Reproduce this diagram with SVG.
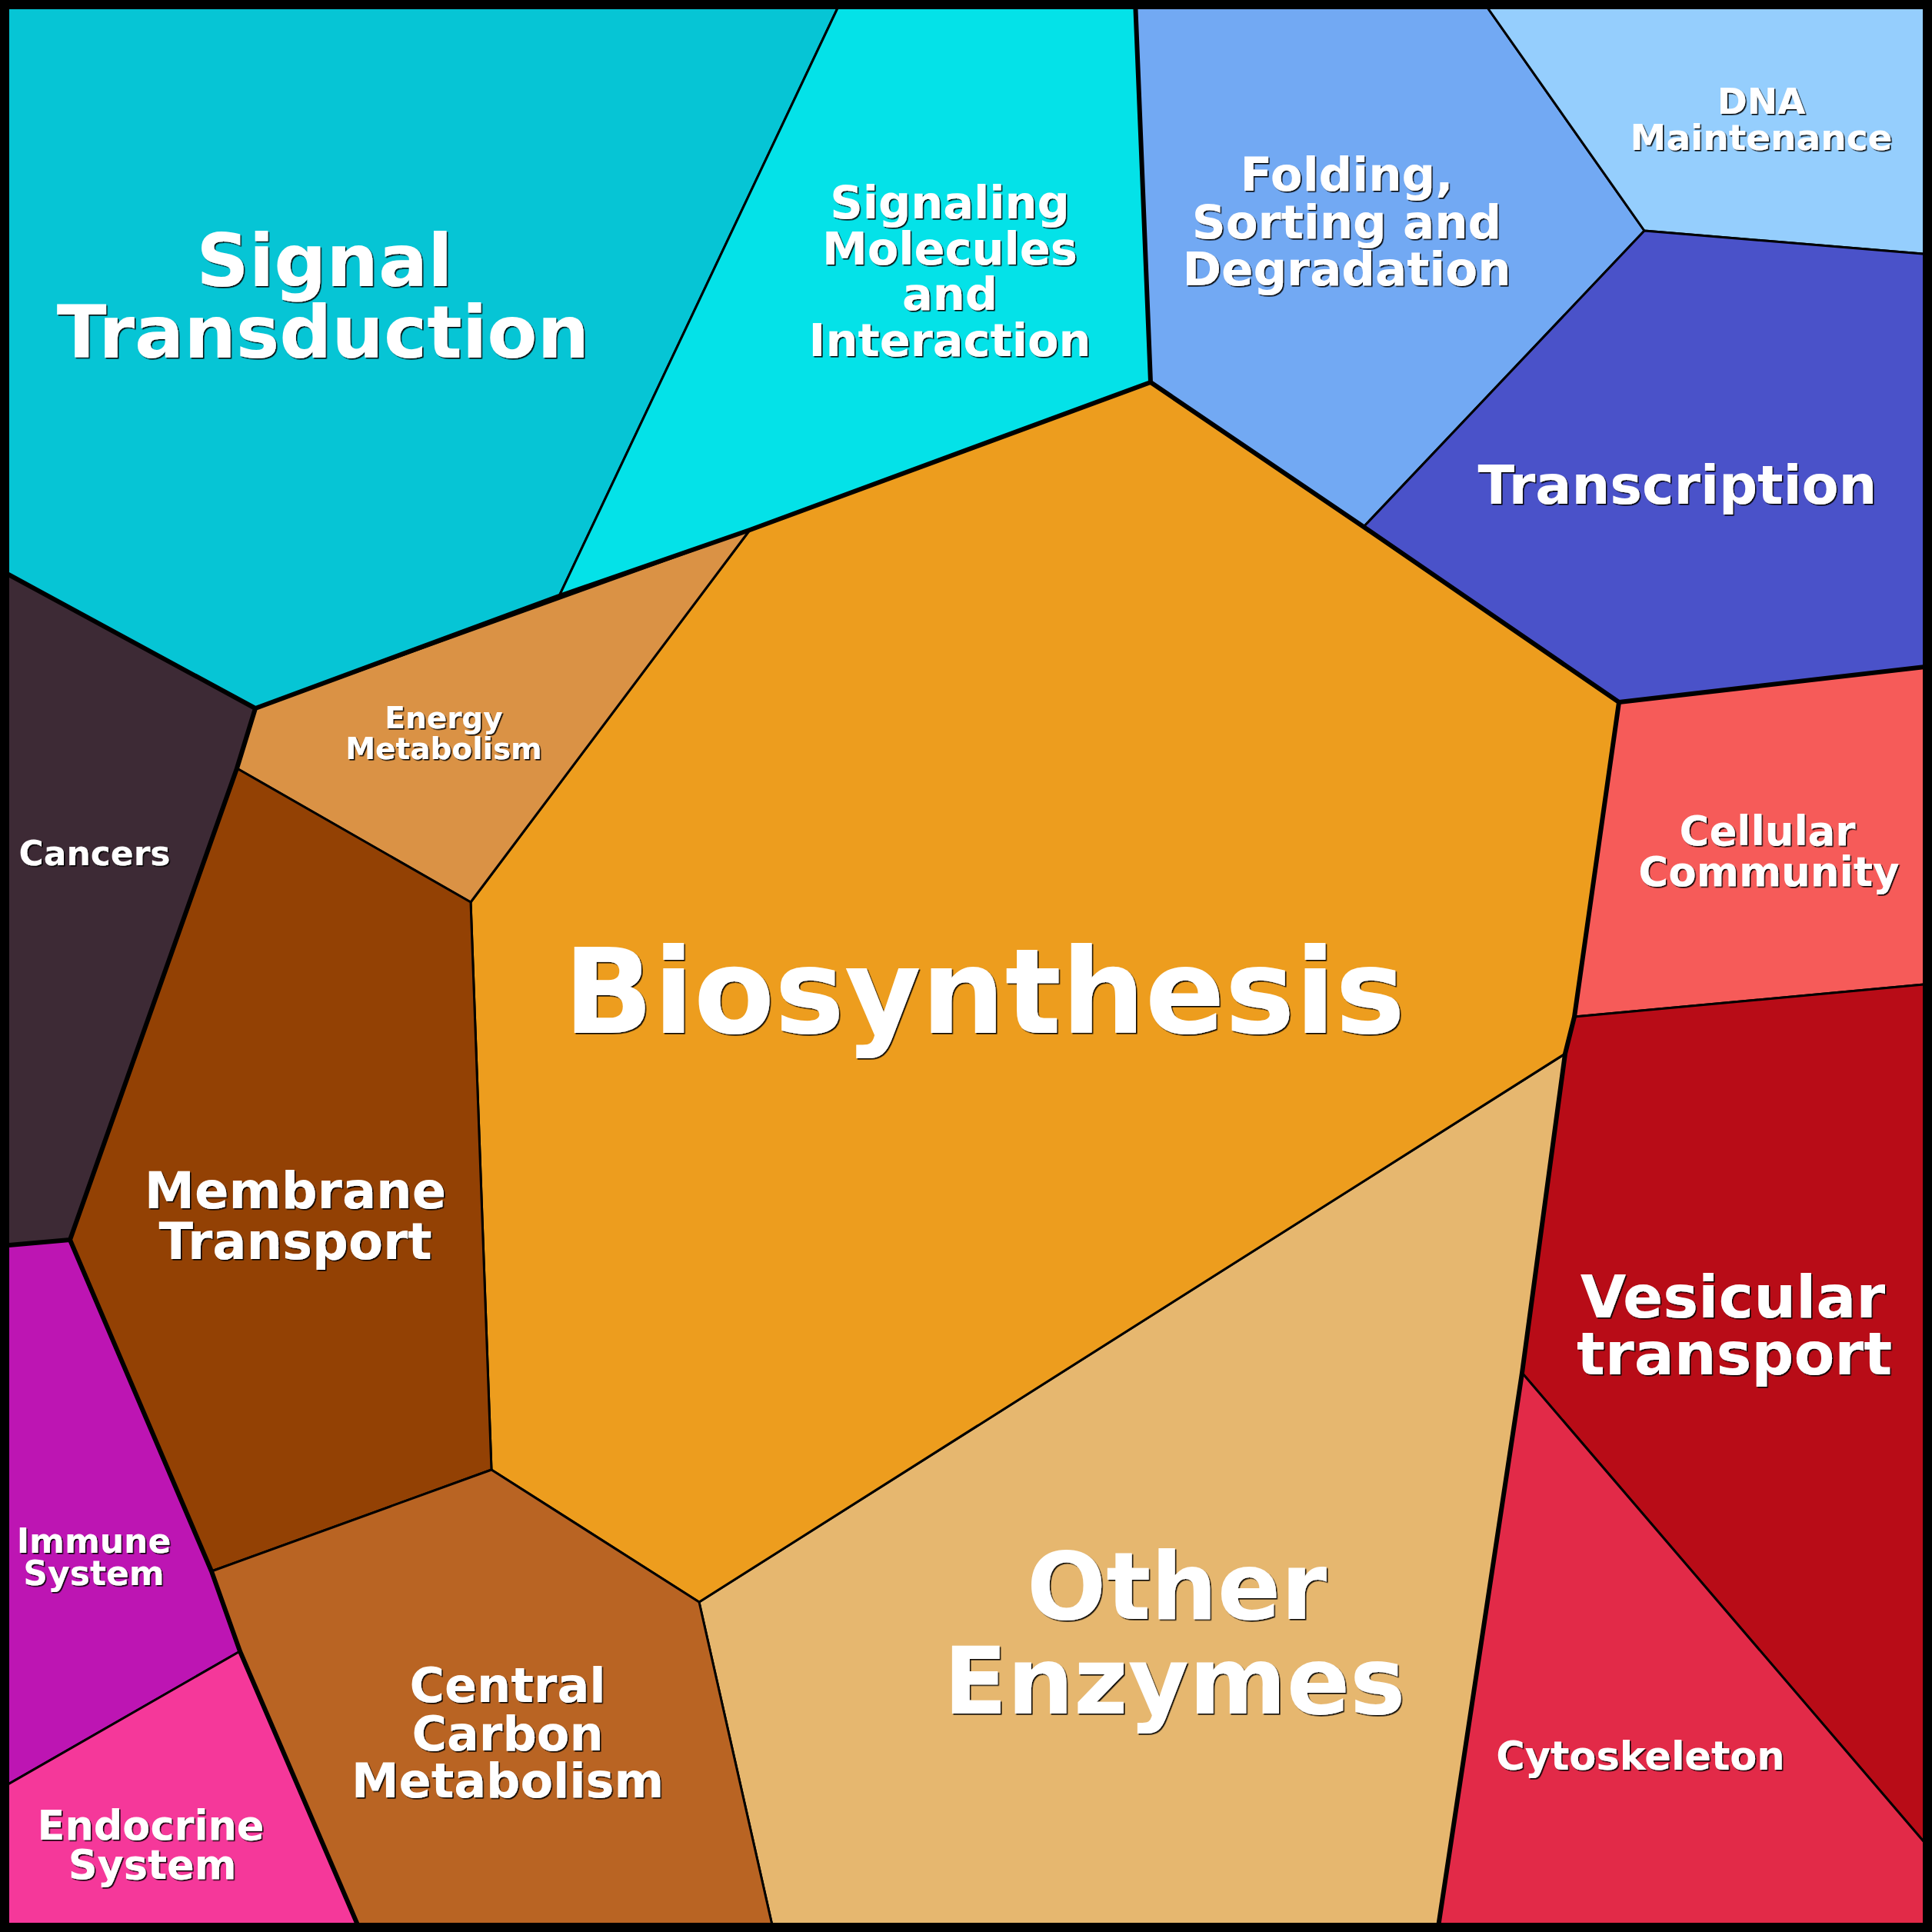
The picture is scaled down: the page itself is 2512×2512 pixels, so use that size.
<svg xmlns="http://www.w3.org/2000/svg" width="2512" height="2512" viewBox="0 0 2512 2512">
<defs>
<filter id="sh" x="-5%" y="-5%" width="110%" height="120%">
<feDropShadow dx="1.6" dy="1.6" stdDeviation="0.6" flood-color="#000" flood-opacity="0.95"/>
</filter>
</defs>
<style>
.cell polygon{stroke:#000;stroke-width:3;stroke-linejoin:round}
.cell text{font-family:"DejaVu Sans","Liberation Sans",sans-serif;font-weight:bold;fill:#fff;text-anchor:middle;filter:url(#sh)}
.thick{fill:none;stroke:#000;stroke-width:6;stroke-linejoin:round;stroke-linecap:round}
</style>
<g id="signal-transduction" class="cell">
<polygon points="0,0 1094,0 727,775 332,921 0,741" fill="#06C5D5"/>
<text font-size="95"><tspan x="422" y="372">Signal</tspan><tspan x="420" y="465">Transduction</tspan></text>
</g>
<g id="signaling-molecules" class="cell">
<polygon points="1094,0 1476,0 1496,497 975,689 727,775" fill="#04E2E8"/>
<text font-size="59"><tspan x="1235" y="284">Signaling</tspan><tspan x="1235" y="344">Molecules</tspan><tspan x="1235" y="403">and</tspan><tspan x="1235" y="463">Interaction</tspan></text>
</g>
<g id="folding" class="cell">
<polygon points="1476,0 1927,0 2138,300 1773,685 1496,497" fill="#72A9F3"/>
<text font-size="61"><tspan x="1751" y="248">Folding,</tspan><tspan x="1751" y="310">Sorting and</tspan><tspan x="1751" y="371">Degradation</tspan></text>
</g>
<g id="dna-maintenance" class="cell">
<polygon points="1927,0 2512,0 2512,331 2138,300" fill="#95CEFD"/>
<text font-size="47"><tspan x="2290" y="148">DNA</tspan><tspan x="2290" y="195">Maintenance</tspan></text>
</g>
<g id="transcription" class="cell">
<polygon points="2138,300 2512,331 2512,866 2105,913 1773,685" fill="#4A52C9"/>
<text font-size="70" x="2181" y="655">Transcription</text>
</g>
<g id="cellular-community" class="cell">
<polygon points="2105,913 2512,866 2512,1279 2047,1322" fill="#F65B59"/>
<text font-size="53"><tspan x="2298" y="1099">Cellular</tspan><tspan x="2300" y="1152">Community</tspan></text>
</g>
<g id="vesicular-transport" class="cell">
<polygon points="2047,1322 2512,1279 2512,2407 1979,1785 2035,1370" fill="#B80C17"/>
<text font-size="77"><tspan x="2253" y="1713">Vesicular</tspan><tspan x="2255" y="1787">transport</tspan></text>
</g>
<g id="cytoskeleton" class="cell">
<polygon points="1979,1785 2512,2407 2512,2512 1869,2512" fill="#E22A48"/>
<text font-size="51" x="2133" y="2301">Cytoskeleton</text>
</g>
<g id="other-enzymes" class="cell">
<polygon points="2035,1370 1979,1785 1869,2512 1006,2512 909,2083" fill="#E6B76F"/>
<text font-size="121.5"><tspan x="1530" y="2105">Other</tspan><tspan x="1527" y="2228">Enzymes</tspan></text>
</g>
<g id="biosynthesis" class="cell">
<polygon points="1496,497 1773,685 2105,913 2047,1322 2035,1370 909,2083 639,1911 612,1173 975,689" fill="#ED9D1E"/>
<text font-size="153" x="1280" y="1343">Biosynthesis</text>
</g>
<g id="energy-metabolism" class="cell">
<polygon points="975,689 612,1173 308,999 332,921" fill="#DA9245"/>
<text font-size="39"><tspan x="577" y="947">Energy</tspan><tspan x="577" y="987">Metabolism</tspan></text>
</g>
<g id="cancers" class="cell">
<polygon points="0,741 332,921 308,999 91,1612 0,1620" fill="#3D2A35"/>
<text font-size="44" x="123" y="1125">Cancers</text>
</g>
<g id="membrane-transport" class="cell">
<polygon points="308,999 612,1173 639,1911 275,2043 91,1612" fill="#934104"/>
<text font-size="65.5"><tspan x="384" y="1571">Membrane</tspan><tspan x="384" y="1637">Transport</tspan></text>
</g>
<g id="central-carbon-metabolism" class="cell">
<polygon points="275,2043 639,1911 909,2083 1006,2512 469,2512 312,2147" fill="#B96423"/>
<text font-size="62"><tspan x="660" y="2213">Central</tspan><tspan x="660" y="2276">Carbon</tspan><tspan x="660" y="2337">Metabolism</tspan></text>
</g>
<g id="immune-system" class="cell">
<polygon points="0,1620 91,1612 275,2043 312,2147 0,2326" fill="#BD15B3"/>
<text font-size="44"><tspan x="122" y="2019">Immune</tspan><tspan x="122" y="2061">System</tspan></text>
</g>
<g id="endocrine-system" class="cell">
<polygon points="0,2326 312,2147 469,2512 0,2512" fill="#F5389A"/>
<text font-size="52.5"><tspan x="196" y="2392">Endocrine</tspan><tspan x="198" y="2443">System</tspan></text>
</g>
<g id="group-boundaries">
<path class="thick" d="M0,741 L332,921 L727,775 L975,689 L1496,497 L1773,685 L2105,913 L2512,866 M1476,0 L1496,497 M2105,913 L2047,1322 L2035,1370 L1979,1785 L1869,2512 M332,921 L308,999 L91,1612 L0,1620 M91,1612 L275,2043 L312,2147 L469,2512"/>
</g>
<rect id="frame" x="6" y="6" width="2500" height="2500" fill="none" stroke="#000" stroke-width="12"/>
</svg>
